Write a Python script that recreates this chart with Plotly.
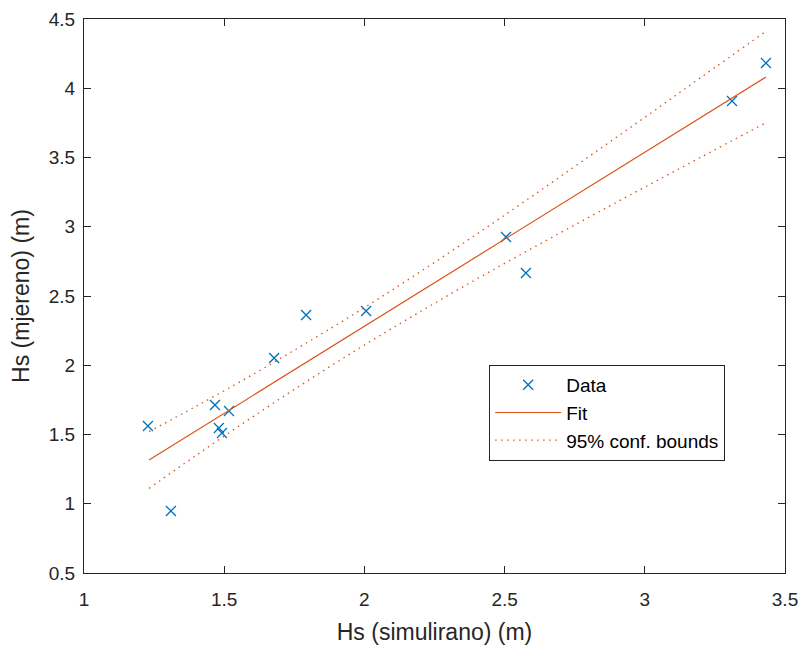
import plotly.graph_objects as go

# Data points
hs_sim = [1.228, 1.310, 1.467, 1.481, 1.492, 1.517, 1.678, 1.792, 2.006, 2.505, 2.576, 3.311, 3.432]
hs_mje = [1.561, 0.948, 1.713, 1.547, 1.511, 1.670, 2.052, 2.363, 2.392, 2.926, 2.666, 3.908, 4.182]

# Fit line end points
fit_x = [1.232, 3.432]
fit_y = [1.316, 4.081]

# Confidence bounds (read at several x)
bound_x = [1.232, 1.4, 1.6, 1.8, 2.0, 2.2, 2.4, 2.6, 2.8, 3.0, 3.2, 3.432]
upper_y = [1.521, 1.704, 1.931, 2.169, 2.416, 2.676, 2.946, 3.223, 3.506, 3.790, 4.078, 4.411]
lower_y = [1.111, 1.350, 1.625, 1.891, 2.146, 2.388, 2.622, 2.847, 3.068, 3.286, 3.502, 3.751]

x_ticks = [1, 1.5, 2, 2.5, 3, 3.5]
x_ticklabels = ["1", "1.5", "2", "2.5", "3", "3.5"]
y_ticks = [0.5, 1, 1.5, 2, 2.5, 3, 3.5, 4, 4.5]
y_ticklabels = ["0.5", "1", "1.5", "2", "2.5", "3", "3.5", "4", "4.5"]

blue = "#0072BD"
orange = "#D95319"
axcol = "#262626"
FONT = "Arial, Liberation Sans, Helvetica, sans-serif"

fig = go.Figure()
fig.add_trace(go.Scatter(x=hs_sim, y=hs_mje, mode="markers", name="Data",
                         marker=dict(symbol="x-thin", size=10, color=blue,
                                     line=dict(color=blue, width=1.3))))
fig.add_trace(go.Scatter(x=fit_x, y=fit_y, mode="lines", name="Fit",
                         line=dict(color=orange, width=1.2)))
fig.add_trace(go.Scatter(x=bound_x, y=upper_y, mode="lines", name="95% conf. bounds",
                         line=dict(color=orange, width=1.3, dash="1.5px,4.5px", shape="spline")))
fig.add_trace(go.Scatter(x=bound_x, y=lower_y, mode="lines", showlegend=False,
                         line=dict(color=orange, width=1.3, dash="1.5px,4.5px", shape="spline")))

axis_common = dict(showgrid=False, zeroline=False, showline=True, linecolor=axcol,
                   linewidth=1, mirror="ticks", ticks="inside", ticklen=7,
                   tickcolor=axcol, tickwidth=1, automargin=False,
                   ticklabeloverflow="allow",
                   tickfont=dict(family=FONT, size=19, color=axcol))

fig.update_xaxes(range=[1, 3.5], tickvals=x_ticks, ticktext=x_ticklabels,
                 ticklabelstandoff=9,
                 title=dict(text="Hs (simulirano) (m)", standoff=16,
                            font=dict(family=FONT, size=23, color=axcol)),
                 **axis_common)
fig.update_yaxes(range=[0.5, 4.5], tickvals=y_ticks, ticktext=y_ticklabels,
                 ticklabelstandoff=4,
                 title=dict(text="Hs (mjereno) (m)", standoff=12,
                            font=dict(family=FONT, size=23, color=axcol)),
                 **axis_common)

fig.update_layout(
    width=801, height=645,
    margin=dict(l=84, r=16, t=19, b=72),
    paper_bgcolor="white", plot_bgcolor="white",
    legend=dict(x=0.578, y=0.3755, xanchor="left", yanchor="top",
                bgcolor="white", bordercolor=axcol, borderwidth=1,
                font=dict(family=FONT, size=19, color="black"),
                itemwidth=66, tracegroupgap=0),
)

# remove the page's default body margin so the figure fills the 801x645 window exactly
fig.write_html("out.html",
               config={"displayModeBar": False},
               post_script="document.body.style.margin='0';document.body.style.overflow='hidden';")
